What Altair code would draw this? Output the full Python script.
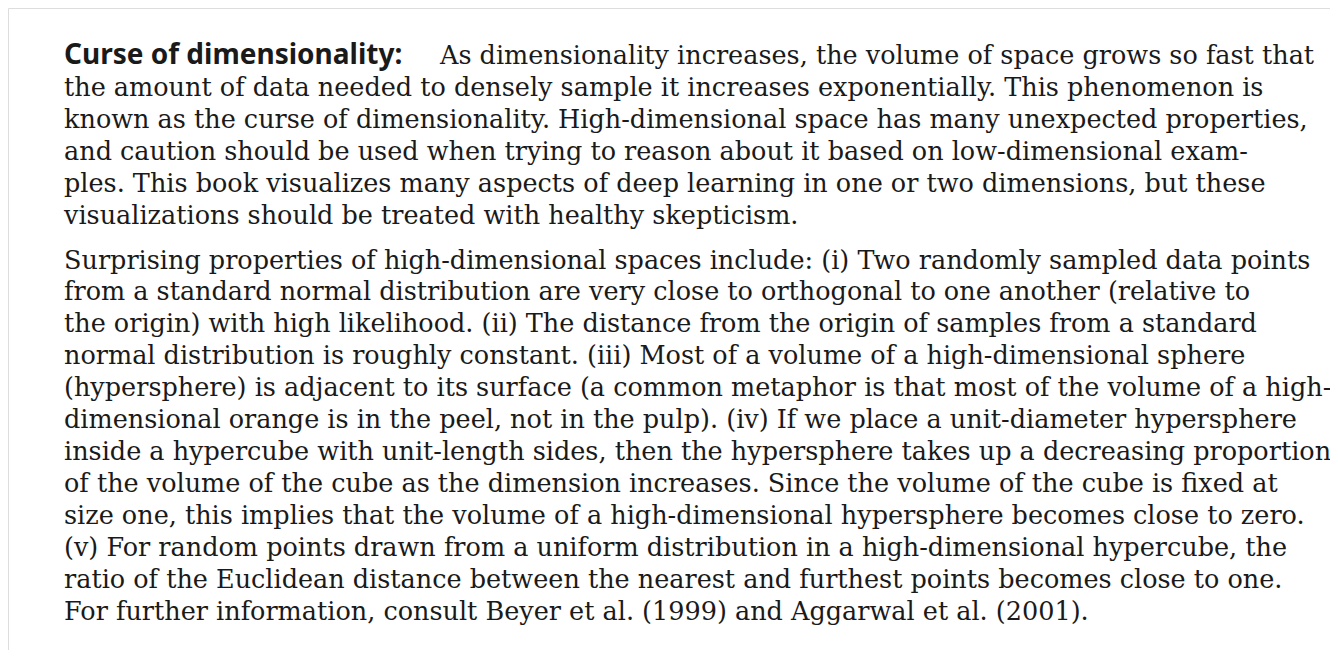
import altair as alt
import pandas as pd

heading = "Curse of dimensionality:"

para1 = [
    "As dimensionality increases, the volume of space grows so fast that",
    "the amount of data needed to densely sample it increases exponentially.  This phenomenon is",
    "known as the curse of dimensionality.  High-dimensional space has many unexpected properties,",
    "and caution should be used when trying to reason about it based on low-dimensional exam-",
    "ples.  This book visualizes many aspects of deep learning in one or two dimensions, but these",
    "visualizations should be treated with healthy skepticism.",
]

para2 = [
    "Surprising properties of high-dimensional spaces include:  (i) Two randomly sampled data points",
    "from a standard normal distribution are very close to orthogonal to one another (relative to",
    "the origin) with high likelihood.  (ii) The distance from the origin of samples from a standard",
    "normal distribution is roughly constant.  (iii) Most of a volume of a high-dimensional sphere",
    "(hypersphere) is adjacent to its surface (a common metaphor is that most of the volume of a high-",
    "dimensional orange is in the peel, not in the pulp).  (iv) If we place a unit-diameter hypersphere",
    "inside a hypercube with unit-length sides, then the hypersphere takes up a decreasing proportion",
    "of the volume of the cube as the dimension increases.  Since the volume of the cube is fixed at",
    "size one, this implies that the volume of a high-dimensional hypersphere becomes close to zero.",
    "(v) For random points drawn from a uniform distribution in a high-dimensional hypercube, the",
    "ratio of the Euclidean distance between the nearest and furthest points becomes close to one.",
    "For further information, consult Beyer et al. (1999) and Aggarwal et al. (2001).",
]

PARA_GAP = 0.4

rows = [{"line": t, "row": i, "first": i == 0} for i, t in enumerate(para1)]
rows += [{"line": t, "row": len(para1) + PARA_GAP + i, "first": False} for i, t in enumerate(para2)]
df = pd.DataFrame(rows)

yscale = alt.Scale(domain=[0, 17.4], range=[48, 604])
ink = "#1a1a1a"
serif = dict(align="left", baseline="middle", font="DejaVu Serif", fontSize=25.5, color=ink)

body = alt.Chart(df).transform_filter("!datum.first").mark_text(**serif).encode(
    x=alt.value(56),
    y=alt.Y("row:Q", scale=yscale, axis=None),
    text="line:N",
)

first = alt.Chart(df).transform_filter("datum.first").mark_text(**serif).encode(
    x=alt.value(432),
    y=alt.Y("row:Q", scale=yscale, axis=None),
    text="line:N",
)

head = alt.Chart(pd.DataFrame({"line": [heading], "row": [0]})).mark_text(
    align="left", baseline="middle", font="Noto Sans", fontSize=28, fontWeight="bold", color=ink
).encode(
    x=alt.value(56),
    y=alt.Y("row:Q", scale=yscale, axis=None),
    text="line:N",
)

chart = (body + first + head).properties(
    width=1322, height=642, padding=0, autosize="none"
).configure_view(stroke=None).configure(background="white")

chart.save("out.html", embed_options={"renderer": "svg", "actions": False})
